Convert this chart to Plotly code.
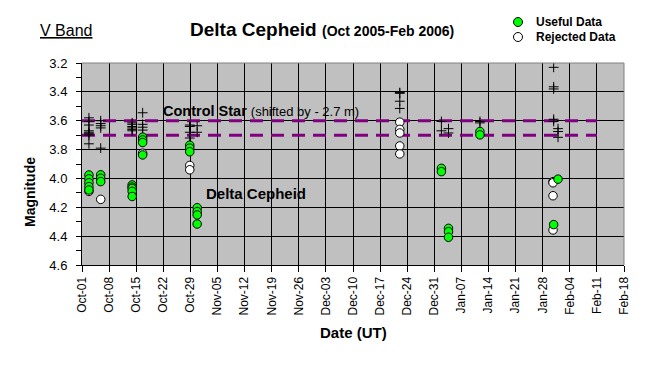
import plotly.graph_objects as go

# ---------------- data ----------------
control_dates = (["2005-10-02 19:00"] * 8 + ["2005-10-05 20:00"] * 5 + ["2005-10-13 23:00"] * 6 +
                 ["2005-10-16 16:00"] * 4 + ["2005-10-28 20:00"] * 4 + ["2005-10-30 18:00"] * 2 +
                 ["2005-12-22 02:00"] * 4 + ["2006-01-01 20:00"] * 2 + ["2006-01-03 16:00"] * 2 +
                 ["2006-01-11 19:00"] * 2 + ["2006-01-30 20:00"] * 5 + ["2006-01-31 23:00"] * 3)
control_mags = [3.58, 3.605, 3.63, 3.67, 3.68, 3.69, 3.70, 3.76,
                3.60, 3.62, 3.635, 3.65, 3.79,
                3.615, 3.625, 3.64, 3.65, 3.66, 3.67,
                3.545, 3.625, 3.645, 3.665,
                3.63, 3.64, 3.68, 3.72,
                3.635, 3.68,
                3.405, 3.41, 3.465, 3.515,
                3.605, 3.67,
                3.655, 3.685,
                3.605, 3.615,
                3.23, 3.365, 3.38, 3.59, 3.605,
                3.655, 3.675, 3.715]

useful_dates = (["2005-10-02 19:00"] * 5 + ["2005-10-05 20:00"] * 3 + ["2005-10-13 23:00"] * 5 +
                ["2005-10-16 16:00"] * 4 + ["2005-10-28 20:00"] * 3 + ["2005-10-30 18:00"] * 4 +
                ["2006-01-01 20:00"] * 2 + ["2006-01-03 16:00"] * 3 + ["2006-01-11 19:00"] * 2 +
                ["2006-01-31 23:00", "2006-01-30 20:00"])
useful_mags = [3.976, 4.003, 4.03, 4.057, 4.08,
               3.975, 3.999, 4.022,
               4.045, 4.06, 4.07, 4.09, 4.125,
               3.714, 3.733, 3.751, 3.837,
               3.77, 3.79, 3.815,
               4.203, 4.23, 4.253, 4.316,
               3.93, 3.953,
               4.346, 4.369, 4.408,
               3.675, 3.698,
               4.005, 4.32]

rejected_dates = (["2005-10-02 19:00", "2005-10-05 20:00", "2005-10-16 16:00"] +
                  ["2005-10-28 20:00"] * 2 + ["2005-12-22 02:00"] * 5 +
                  ["2006-01-30 16:00"] * 4)
rejected_mags = [4.09, 4.145, 3.825,
                 3.91, 3.94,
                 3.61, 3.66, 3.685, 3.775, 3.83,
                 4.022, 4.03, 4.12, 4.357]

reference_dates = ["2005-10-01", "2006-02-11"]
reference_levels = [3.6, 3.7]

tick_dates = ["2005-10-01", "2005-10-08", "2005-10-15", "2005-10-22", "2005-10-29",
              "2005-11-05", "2005-11-12", "2005-11-19", "2005-11-26", "2005-12-03",
              "2005-12-10", "2005-12-17", "2005-12-24", "2005-12-31", "2006-01-07",
              "2006-01-14", "2006-01-21", "2006-01-28", "2006-02-04", "2006-02-11",
              "2006-02-18"]
tick_labels = ["Oct-01", "Oct-08", "Oct-15", "Oct-22", "Oct-29", "Nov-05", "Nov-12",
               "Nov-19", "Nov-26", "Dec-03", "Dec-10", "Dec-17", "Dec-24", "Dec-31",
               "Jan-07", "Jan-14", "Jan-21", "Jan-28", "Feb-04", "Feb-11", "Feb-18"]
mag_ticks = [3.2, 3.4, 3.6, 3.8, 4.0, 4.2, 4.4, 4.6]
mag_labels = ["3.2", "3.4", "3.6", "3.8", "4.0", "4.2", "4.4", "4.6"]

# ---------------- figure ----------------
FONT = "Liberation Sans, Arial, sans-serif"
W, H = 647, 368
L, R, T, B = 82, 23, 63, 103
PW, PH = W - L - R, H - T - B


def px(x):
    return (x - L) / PW


def py(y):
    return (H - B - y) / PH


fig = go.Figure()

for lvl in reference_levels:
    fig.add_trace(go.Scatter(x=reference_dates, y=[lvl, lvl], mode="lines",
                             line=dict(color="#800080", width=3, dash="13px,8px"),
                             showlegend=False, hoverinfo="skip"))

fig.add_trace(go.Scatter(x=control_dates, y=control_mags, mode="markers",
                         marker=dict(symbol="cross-thin", size=7,
                                     line=dict(color="black", width=1)),
                         showlegend=False))
fig.add_trace(go.Scatter(x=rejected_dates, y=rejected_mags, mode="markers",
                         marker=dict(symbol="circle", size=8.5, color="white",
                                     line=dict(color="black", width=1)),
                         showlegend=False))
fig.add_trace(go.Scatter(x=useful_dates, y=useful_mags, mode="markers",
                         marker=dict(symbol="circle", size=8.5, color="#00FF00",
                                     line=dict(color="black", width=1)),
                         showlegend=False))

fig.update_layout(
    width=W, height=H,
    margin=dict(l=L, r=R, t=T, b=B),
    paper_bgcolor="white",
    plot_bgcolor="#C0C0C0",
    font=dict(family=FONT, color="black", size=12),
    showlegend=False,
)

fig.update_xaxes(
    type="date", range=[tick_dates[0], tick_dates[-1]],
    tickvals=tick_dates, ticktext=tick_labels, tickangle=-90,
    tickfont=dict(size=12, family=FONT),
    ticks="outside", ticklen=6, tickcolor="black",
    showgrid=True, gridcolor="black", gridwidth=1,
    showline=True, linecolor="black", linewidth=1,
    zeroline=False,
)
fig.update_yaxes(
    range=[4.6, 3.2],
    tickvals=mag_ticks, ticktext=mag_labels,
    tickfont=dict(size=13, family=FONT),
    ticks="outside", ticklen=5, tickcolor="black",
    minor=dict(dtick=0.1, tick0=3.2, ticks="outside", ticklen=5, tickcolor="black", showgrid=False),
    ticklabelstandoff=6,
    showgrid=True, gridcolor="black", gridwidth=1,
    showline=True, linecolor="black", linewidth=1,
    zeroline=False,
)

shapes = [
    dict(type="line", xref="paper", yref="paper", x0=0, x1=1, y0=1, y1=1,
         line=dict(color="#808080", width=1), layer="above"),
    dict(type="line", xref="paper", yref="paper", x0=1, x1=1, y0=0, y1=1,
         line=dict(color="#808080", width=1), layer="above"),
    # legend markers
    dict(type="circle", xref="paper", yref="paper", xsizemode="pixel", ysizemode="pixel",
         xanchor=px(518), yanchor=py(22), x0=-4.5, x1=4.5, y0=-4.5, y1=4.5,
         fillcolor="#00FF00", line=dict(color="black", width=1)),
    dict(type="circle", xref="paper", yref="paper", xsizemode="pixel", ysizemode="pixel",
         xanchor=px(518), yanchor=py(37), x0=-4.5, x1=4.5, y0=-4.5, y1=4.5,
         fillcolor="white", line=dict(color="black", width=1)),
]
fig.update_layout(shapes=shapes)

ann = [
    dict(text="<u>V Band</u>", x=px(38), y=py(30), xanchor="left", yanchor="middle",
         font=dict(size=16)),
    dict(text="<b>Delta Cepheid</b> <b><span style='font-size:14px'>(Oct 2005-Feb 2006)</span></b>",
         x=px(188), y=py(29), xanchor="left", yanchor="middle", font=dict(size=19)),
    dict(text="<b>Useful Data</b>", x=px(534), y=py(22), xanchor="left", yanchor="middle",
         font=dict(size=12)),
    dict(text="<b>Rejected Data</b>", x=px(534), y=py(37), xanchor="left", yanchor="middle",
         font=dict(size=12)),
    dict(text="<b>Control Star</b> <span style='font-size:13px'>(shifted by - 2.7 m)</span>",
         x=px(161), y=py(111), xanchor="left", yanchor="middle", font=dict(size=14.5)),
    dict(text="<b>Delta Cepheid</b>", x=px(204), y=py(193), xanchor="left", yanchor="middle",
         font=dict(size=15)),
    dict(text="<b>Magnitude</b>", x=px(30), y=py(192), xanchor="center", yanchor="middle",
         textangle=-90, font=dict(size=14)),
    dict(text="<b>Date (UT)</b>", x=px(353), y=py(332), xanchor="center", yanchor="middle",
         font=dict(size=15)),
]
for a in ann:
    a.update(xref="paper", yref="paper", showarrow=False)
fig.update_layout(annotations=ann)

fig.write_html("out.html", config={"displayModeBar": False},
               post_script="document.body.style.margin='0px';")
